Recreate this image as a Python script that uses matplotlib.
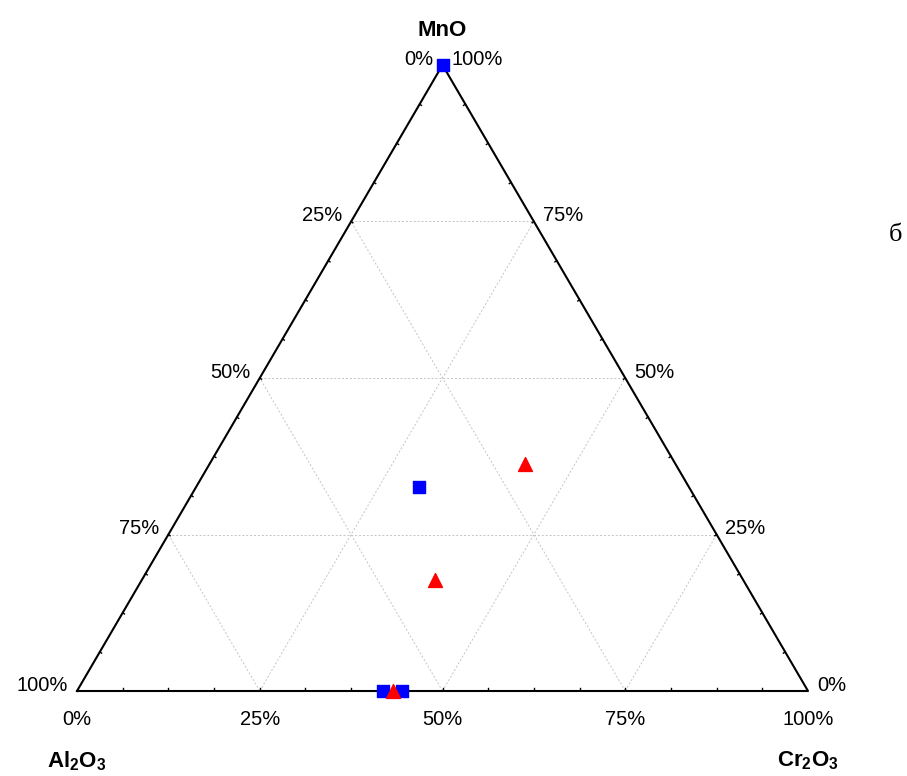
"""Ternary diagram MnO - Al2O3 - Cr2O3."""

import matplotlib.pyplot as plt
import numpy as np

plt.rcParams["font.family"] = ["Liberation Sans", "DejaVu Sans"]
plt.rcParams["mathtext.fontset"] = "custom"
plt.rcParams["mathtext.rm"] = "Liberation Sans"
plt.rcParams["mathtext.bf"] = "Liberation Sans:bold"

# compositions as fractions (MnO, Cr2O3); Al2O3 is the remainder
square_mno = [1.00, 0.326, 0.0, 0.0]
square_cr = [0.00, 0.305, 0.419, 0.445]
triangle_mno = [0.363, 0.177, 0.0]
triangle_cr = [0.431, 0.401, 0.432]

grid_levels = [0.25, 0.50, 0.75]
tick_labels = ["0%", "25%", "50%", "75%", "100%"]


def to_xy(mno, cr):
    mno = np.asarray(mno, dtype=float)
    cr = np.asarray(cr, dtype=float)
    return cr + mno / 2.0, mno


fig = plt.figure(figsize=(9.07, 7.76), dpi=100)
W, H = 907, 776
ax = fig.add_axes([77 / W, (H - 691) / H, (808 - 77) / W, (691 - 65) / H])
ax.set_xlim(0, 1)
ax.set_ylim(0, 1)
ax.axis("off")

grid_kw = dict(color="#c4c4c4", ls=(0, (2, 2)), lw=0.7, zorder=1)
for g in grid_levels:
    # constant MnO
    ax.plot([g / 2, 1 - g / 2], [g, g], **grid_kw)
    # constant Cr2O3
    x0, y0 = to_xy(0, g)
    x1, y1 = to_xy(1 - g, g)
    ax.plot([x0, x1], [y0, y1], **grid_kw)
    # constant Al2O3
    x0, y0 = to_xy(0, 1 - g)
    x1, y1 = to_xy(1 - g, 0)
    ax.plot([x0, x1], [y0, y1], **grid_kw)

# frame
ax.plot([0, 1, 0.5, 0], [0, 0, 1, 0], color="black", lw=1.5, zorder=2, clip_on=False)

# tiny inward ticks every 6.25%
fr = np.arange(1, 16) / 16
tk = 0.004
for f in fr:
    ax.plot([f, f], [0, tk], color="black", lw=1, zorder=2)
    ax.plot([f / 2, f / 2 + tk * 0.6], [f, f - tk * 0.5], color="black", lw=1, zorder=2)
    ax.plot([1 - f / 2, 1 - f / 2 - tk * 0.6], [f, f - tk * 0.5], color="black", lw=1, zorder=2)

fs = 14.5
for i, lab in enumerate(tick_labels):
    v = i / 4
    # bottom: Cr2O3
    ax.text(v, -0.03, lab, ha="center", va="top", fontsize=fs)
    # right edge: MnO
    ax.text(1 - v / 2 + 0.012, v + 0.009, lab, ha="left", va="center", fontsize=fs)
    # left edge: Al2O3
    h = 1 - v
    ax.text(h / 2 - 0.012, h + 0.009, lab, ha="right", va="center", fontsize=fs)

ax.text(0.5, 1.038, "MnO", ha="center", va="bottom", fontsize=16, fontweight="bold")
ax.text(0.0, -0.093, r"Al$_\mathbf{2}$O$_\mathbf{3}$", ha="center", va="top",
        fontsize=16, fontweight="bold")
ax.text(1.0, -0.093, r"Cr$_\mathbf{2}$O$_\mathbf{3}$", ha="center", va="top",
        fontsize=16, fontweight="bold")
fig.text(895 / W, 1 - 235 / H, "б", ha="center", va="center", fontsize=19,
         family=["Liberation Serif", "DejaVu Serif"])

sx, sy = to_xy(square_mno, square_cr)
ax.scatter(sx, sy, marker="s", s=85, color="#0000ff", edgecolors="#0000ff",
           zorder=4, clip_on=False)
tx, ty = to_xy(triangle_mno, triangle_cr)
ax.scatter(tx, ty, marker="^", s=100, color="#ff0000", edgecolors="#ff0000",
           zorder=5, clip_on=False)

fig.savefig("out.png", dpi=100)
